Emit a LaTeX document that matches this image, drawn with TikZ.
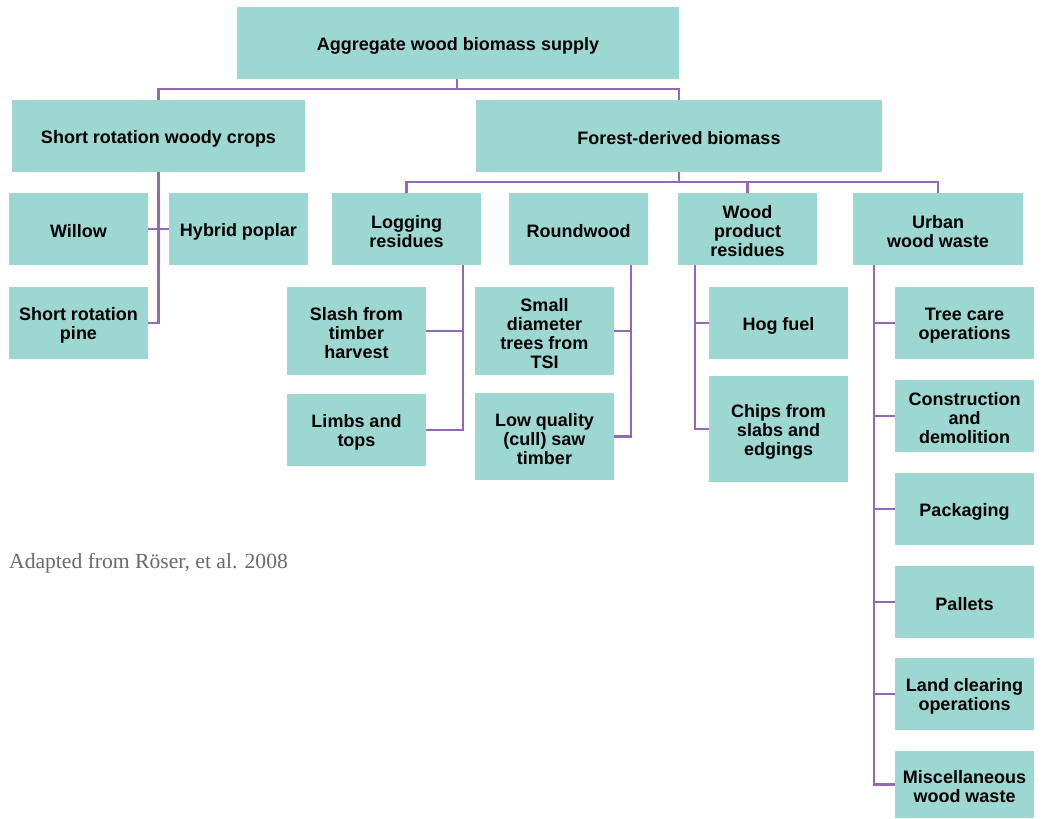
\documentclass[tikz,border=0pt]{standalone}
\usepackage{fontspec}
\setmainfont{Liberation Sans}
\newfontfamily\capfont{Liberation Serif}
\definecolor{boxfill}{RGB}{157,215,210}
\definecolor{linkc}{RGB}{150,104,178}
\definecolor{capgray}{RGB}{105,105,105}
\tikzset{
  bx/.style={fill=boxfill, draw=none, inner sep=0pt},
  bxtext/.style={inner sep=0pt, align=center,
    font=\fontsize{18}{19}\selectfont\bfseries},
  link/.style={draw=linkc, line width=2.8pt, line join=miter}
}
\newcommand{\bxnode}[6]{%
  \node[bx, minimum width={#4-#2}, minimum height={#5-#3}] (#1) at ({(#2+#4)/2},{(#3+#5)/2}) {};
  \node[bxtext] (#1-t) at ([yshift=-2.5pt]#1.center) {#6};}
\begin{document}
\begin{tikzpicture}[x=1pt,y=-1pt]
\useasboundingbox (0,0) rectangle (1042,819);
% boxes
\bxnode{agg}{237}{7}{679}{79}{Aggregate wood biomass supply}
\bxnode{src}{12}{100}{305}{172}{Short rotation woody crops}
\bxnode{fdb}{476}{100}{882}{172}{Forest-derived biomass}
\bxnode{willow}{9}{193}{148}{265}{Willow}
\bxnode{hyb}{169}{193}{308}{265}{Hybrid poplar}
\bxnode{pine}{9}{287}{148}{359}{Short rotation\\pine}
\bxnode{log}{332}{193}{481}{265}{Logging\\residues}
\bxnode{round}{509}{193}{648}{265}{Roundwood}
\bxnode{wpr}{678}{193}{817}{265}{Wood\\product\\residues}
\bxnode{urban}{853}{193}{1023}{265}{Urban\\wood waste}
\bxnode{slash}{287}{287}{426}{375}{Slash from\\timber\\harvest}
\bxnode{limbs}{287}{394}{426}{466}{Limbs and\\tops}
\bxnode{small}{475}{287}{614}{375}{Small\\diameter\\trees from\\TSI}
\bxnode{lowq}{475}{393}{614}{480}{Low quality\\(cull) saw\\timber}
\bxnode{hog}{709}{287}{848}{359}{Hog fuel}
\bxnode{chips}{709}{376}{848}{482}{Chips from\\slabs and\\edgings}
\bxnode{tree}{895}{287}{1034}{359}{Tree care\\operations}
\bxnode{cons}{895}{380}{1034}{452}{Construction\\and\\demolition}
\bxnode{pack}{895}{473}{1034}{545}{Packaging}
\bxnode{pall}{895}{566}{1034}{638}{Pallets}
\bxnode{land}{895}{658}{1034}{730}{Land clearing\\operations}
\bxnode{misc}{895}{751}{1034}{818}{Miscellaneous\\wood waste}
% caption
\node[anchor=base west, inner sep=0pt, text=capgray, font=\capfont\fontsize{21.6}{23}\selectfont] (cap) at (9,568) {Adapted from Röser, et al. 2008};
% connectors
\coordinate (j1) at (457,89);
\draw[link] (agg.south -| j1) -- (j1);
\draw[link] (src.north) |- (j1) -| (fdb.north);
\coordinate (j2) at (679,182);
\draw[link] (fdb.south) -- (j2);
\draw[link] (log.north) |- (j2) -| (urban.north);
\draw[link] (wpr.north) -- (wpr.north |- j2);
% short rotation woody crops
\draw[link] (src.south) |- (pine.east);
\draw[link] (willow.east) -- (hyb.west);
% logging residues
\coordinate (lx) at (463,0);
\draw[link] (lx |- log.south) |- (limbs.east);
\draw[link] (slash.east) -- (slash.east -| lx);
% roundwood
\coordinate (rx) at (631,0);
\draw[link] (rx |- round.south) |- (lowq.east);
\draw[link] (small.east) -- (small.east -| rx);
% wood product residues
\coordinate (wx) at (695,0);
\draw[link] (wx |- wpr.south) |- (chips.west);
\draw[link] (hog.west) -- (hog.west -| wx);
% urban wood waste
\coordinate (ux) at (874,0);
\draw[link] (ux |- urban.south) |- (misc.west);
\foreach \n in {tree,cons,pack,pall,land}
  \draw[link] (\n.west) -- (\n.west -| ux);
\end{tikzpicture}
\end{document}
